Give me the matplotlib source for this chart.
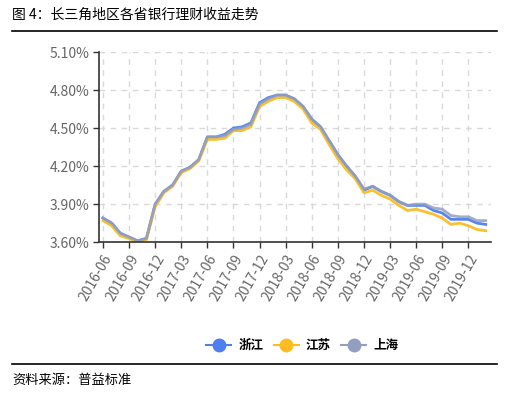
import matplotlib
matplotlib.use("Agg")
import matplotlib.pyplot as plt
from matplotlib.lines import Line2D
from matplotlib.ticker import FuncFormatter

plt.rcParams['font.family'] = ['Noto Sans CJK SC', 'DejaVu Sans']

# monthly, 2016-06 .. 2020-02
months = [f"{2016 + (5 + i) // 12}-{(5 + i) % 12 + 1:02d}" for i in range(45)]

zhejiang = [3.79, 3.75, 3.67, 3.64, 3.61, 3.63, 3.90, 4.00, 4.05, 4.16, 4.19, 4.25,
            4.43, 4.43, 4.45, 4.50, 4.51, 4.54, 4.70, 4.74, 4.76, 4.76, 4.73, 4.67,
            4.57, 4.51, 4.40, 4.29, 4.20, 4.12, 4.01, 4.04, 4.00, 3.97, 3.92, 3.89,
            3.89, 3.89, 3.85, 3.83, 3.78, 3.78, 3.78, 3.75, 3.74]
jiangsu = [3.77, 3.73, 3.65, 3.63, 3.60, 3.62, 3.88, 3.99, 4.04, 4.15, 4.18, 4.24,
           4.41, 4.41, 4.42, 4.48, 4.48, 4.51, 4.67, 4.71, 4.74, 4.74, 4.71, 4.65,
           4.54, 4.49, 4.37, 4.26, 4.17, 4.10, 3.99, 4.01, 3.97, 3.94, 3.89, 3.85,
           3.86, 3.84, 3.82, 3.79, 3.74, 3.75, 3.73, 3.70, 3.69]
shanghai = [3.79, 3.75, 3.67, 3.64, 3.61, 3.63, 3.90, 4.00, 4.05, 4.16, 4.19, 4.25,
            4.43, 4.43, 4.44, 4.49, 4.50, 4.53, 4.69, 4.73, 4.76, 4.76, 4.73, 4.67,
            4.57, 4.51, 4.40, 4.29, 4.20, 4.12, 4.02, 4.04, 4.00, 3.97, 3.92, 3.89,
            3.90, 3.90, 3.87, 3.86, 3.81, 3.80, 3.80, 3.77, 3.77]

series = [("浙江", zhejiang, "#4d7ff0"), ("江苏", jiangsu, "#fbbd22"), ("上海", shanghai, "#929fbf")]

fig = plt.figure(figsize=(5.08, 3.97), dpi=100)
ax = fig.add_axes([0.195, 0.390, 0.7715, 0.479])

x = list(range(len(months)))
for name, vals, col in series:
    ax.plot(x, vals, color=col, lw=2.0, alpha=0.95 if name != "上海" else 0.85)

ax.set_ylim(3.60, 5.10)
ax.set_yticks([3.60, 3.90, 4.20, 4.50, 4.80, 5.10])
ax.yaxis.set_major_formatter(FuncFormatter(lambda v, p: f"{v:.2f}%"))
ax.set_xlim(-0.45, 44.6)
tick_idx = list(range(0, 45, 3))[:15]
ax.set_xticks(tick_idx)
ax.set_xticklabels([months[i] for i in tick_idx], rotation=60, ha='right',
                   rotation_mode='anchor')

ax.grid(True, color="#d9d9d9", ls=(0, (4, 4)), lw=1.0)
ax.set_axisbelow(True)
for s in ['top', 'right']:
    ax.spines[s].set_visible(False)
for s in ['left', 'bottom']:
    ax.spines[s].set_color("#333333")
    ax.spines[s].set_linewidth(1.2)
ax.tick_params(axis='both', colors="#333333", labelcolor="#666666", labelsize=10,
               length=4, width=1, pad=3)

handles = [Line2D([0], [0], color=c, lw=1.5, marker='o', markersize=9,
                  markerfacecolor=c, markeredgecolor=c) for _, _, c in series]
fig.legend(handles, [n for n, _, _ in series], loc='center', bbox_to_anchor=(0.595, 0.13),
           ncol=3, frameon=False, handlelength=2.0, columnspacing=0.8, handletextpad=0.6,
           prop={'family': ['Noto Sans CJK SC', 'DejaVu Sans'], 'size': 9, 'weight': 'bold'})

fig.text(0.024, 0.962, "图 4：长三角地区各省银行理财收益走势", fontsize=10, va='center',
         color="#000000")
fig.add_artist(Line2D([0.024, 0.978], [0.922, 0.922], color='black', lw=1.2))
fig.add_artist(Line2D([0.024, 0.978], [0.083, 0.083], color='black', lw=1.2))
fig.text(0.024, 0.042, "资料来源：普益标准", fontsize=9.5, va='center', color="#000000")

fig.savefig("out.png", dpi=100)
